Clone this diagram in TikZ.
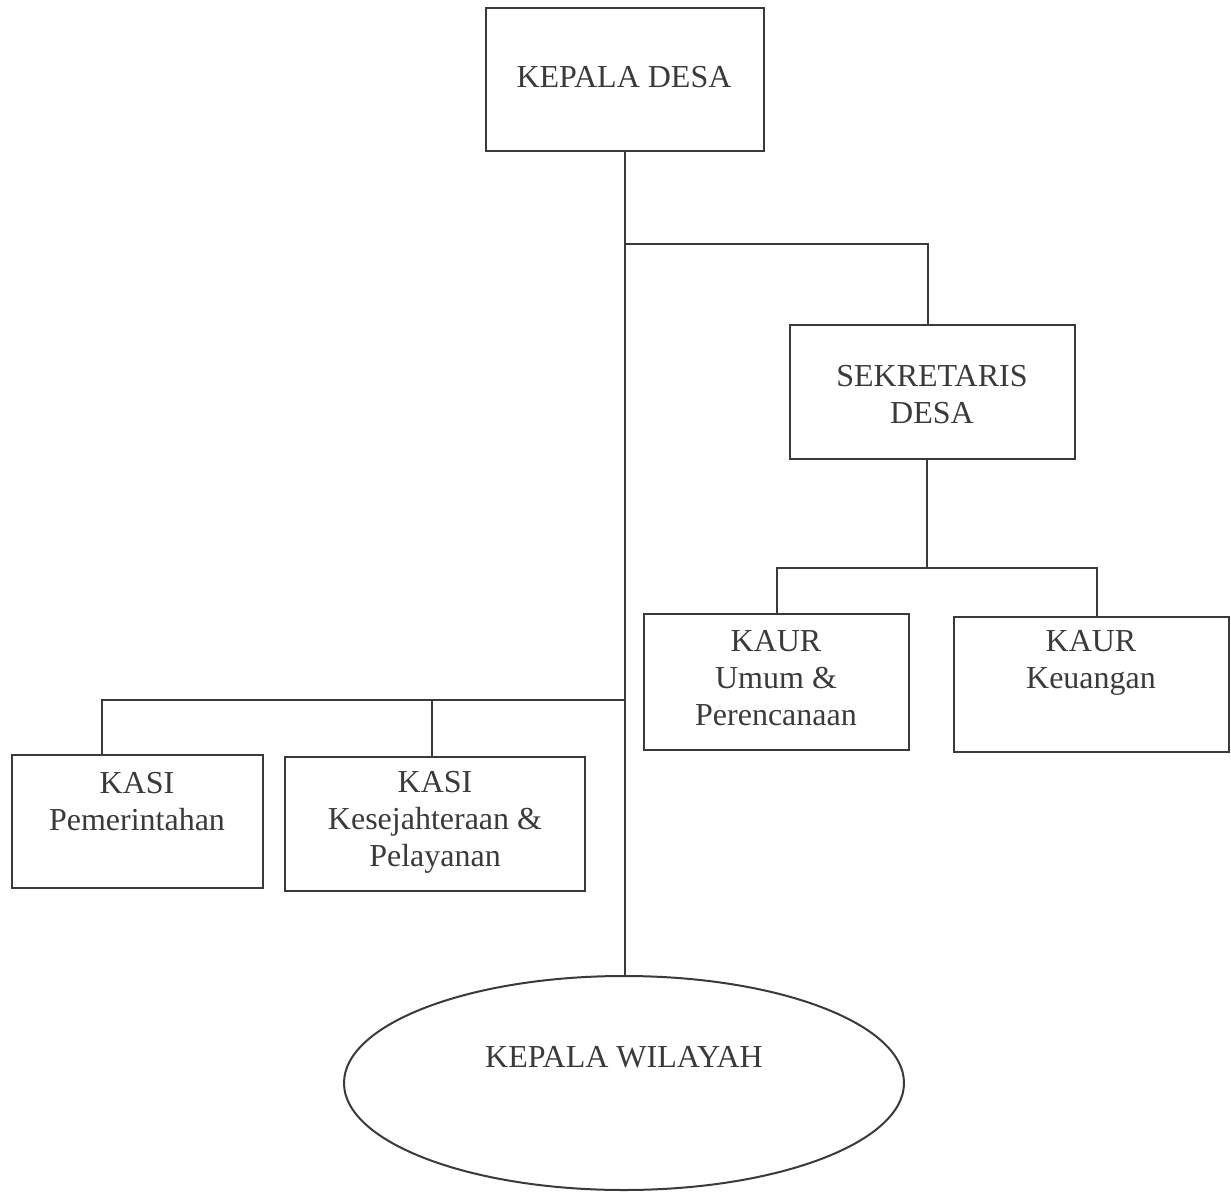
\documentclass[tikz,border=0pt]{standalone}
\usepackage{fontspec}
\setmainfont{Liberation Serif}
\usetikzlibrary{shapes.geometric}
\definecolor{ink}{HTML}{3A3A3A}
\tikzset{
  box/.style={draw=ink, line width=1pt, inner sep=0pt, outer sep=0pt},
  oval/.style={draw=ink, line width=1pt, ellipse, inner sep=0pt, outer sep=0pt},
  lbl/.style={text=ink, align=center, inner sep=0pt, font=\fontsize{16}{18.5}\selectfont},
  conn/.style={draw=ink, line width=1pt}
}
\begin{document}
\begin{tikzpicture}[x=0.5pt,y=-0.5pt]
\useasboundingbox (0,0) rectangle (1231,1192);
% boxes
\node[box, minimum width=139pt, minimum height=71.5pt] (kd) at (625,79.5) {};
\node[box, minimum width=142.5pt, minimum height=67pt] (sd) at (932.5,392) {};
\node[box, minimum width=132.5pt, minimum height=68pt] (ku) at (776.5,682) {};
\node[box, minimum width=137.5pt, minimum height=67.5pt] (kk) at (1091.5,684.5) {};
\node[box, minimum width=125.5pt, minimum height=66.5pt] (kp) at (137.5,821.5) {};
\node[box, minimum width=150pt, minimum height=67pt] (ks) at (435,824) {};
\node[oval, minimum width=280pt, minimum height=107pt] (kw) at (624,1083) {};
% labels
\node[lbl] (tkd) at (624,77) {KEPALA DESA};
\node[lbl] (tsd) at (932,395) {SEKRETARIS\\DESA};
\node[lbl] (tku) at (776,678) {KAUR\\Umum \&\\Perencanaan};
\node[lbl] (tkk) at (1091,663) {KAUR\\Keuangan};
\node[lbl] (tkp) at (137,802) {KASI\\Pemerintahan};
\node[lbl] (tks) at (435,822) {KASI\\Kesejahteraan \&\\Pelayanan};
\node[lbl] (tkw) at (624,1057) {KEPALA WILAYAH};
% junctions
\coordinate (j1) at (625,244);
\coordinate (j2) at (927,568);
\coordinate (j3) at (625,700);
% connectors
\draw[conn] (kd.south) -- (kd.south |- kw.north);
\draw[conn] (j1) -| ([xshift=-2.25pt]sd.north);
\draw[conn] (sd.south -| j2) -- (j2);
\draw[conn] (ku.north) |- (j2) -| ([xshift=2.75pt]kk.north);
\draw[conn] ([xshift=-18pt]kp.north) |- (j3);
\draw[conn] ([xshift=-1.5pt]ks.north) -- ([xshift=-1.5pt]ks.north |- j3);
\end{tikzpicture}
\end{document}
